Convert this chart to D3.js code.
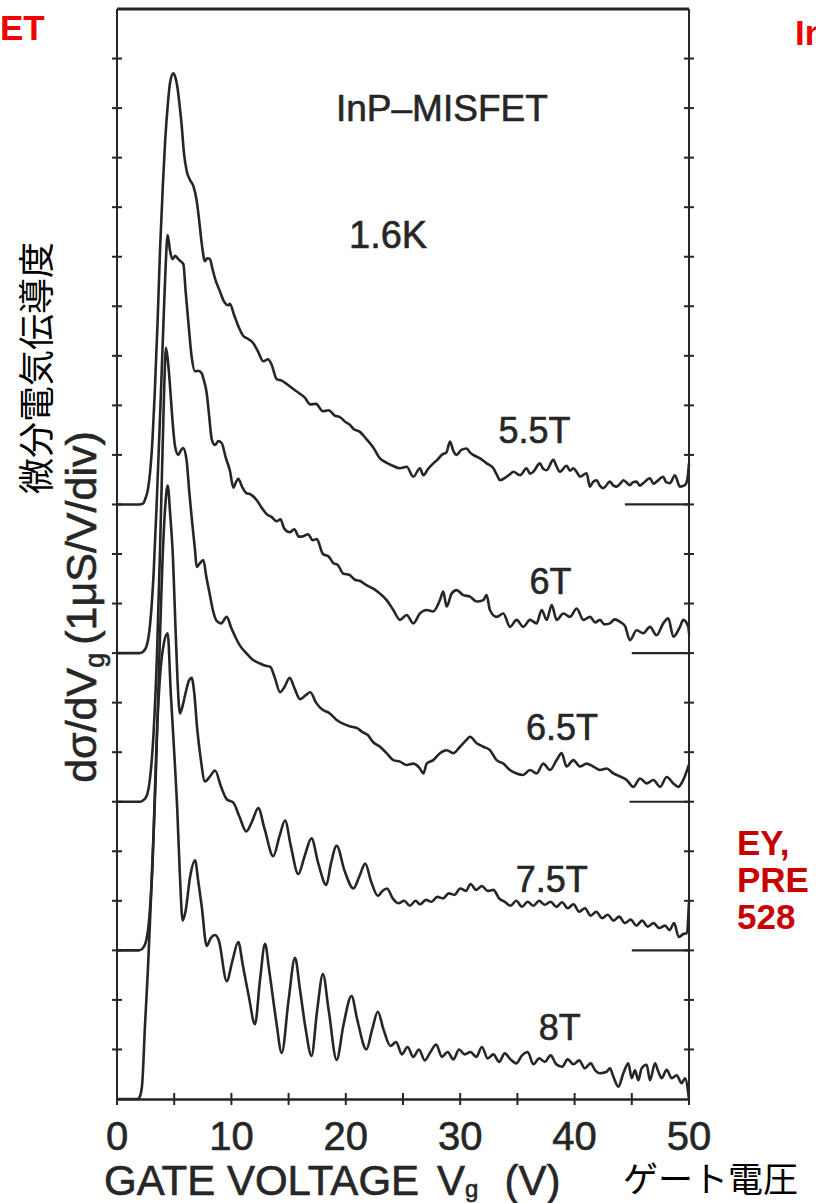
<!DOCTYPE html>
<html><head><meta charset="utf-8">
<script src="https://cdn.jsdelivr.net/npm/d3@7"></script>
<style>body{margin:0;background:#fff}svg{display:block}</style>
</head><body><svg id="c" width="816" height="1203"></svg>
<script>
// ---- data (gate voltage V, dσ/dVg above baseline in divisions) ----
const fields = ["5.5T","6T","6.5T","7.5T","8T"];
const offsets = [12, 9, 6, 3, 0];
const xTicks = [0,10,20,30,40,50];
const xMinor = [5,15,25,35,45];
const markerStart = [44.4, 45.0, 44.8, 45.0];

const curve55 = [[0,0],[2.0,0],[2.3,0.02],[2.45,0.1],[2.7,0.3],[2.9,0.67],[3.1,1.3],[3.3,2.25],[3.55,3.7],[3.76,5.13],[4.0,6.4],[4.2,7.3],[4.45,8.1],[4.63,8.5],[4.92,8.7],[5.1,8.62],[5.27,8.44],[5.45,8.1],[5.65,7.66],[5.85,7.1],[6.09,6.73],[6.38,6.55],[6.67,6.43],[6.96,6.14],[7.2,5.7],[7.4,5.28],[7.69,4.91],[7.9,4.97],[8.13,4.95],[8.35,4.75],[8.57,4.56],[9.0,4.3],[9.3,4.12],[9.73,4.02],[9.87,4.05],[10.2,3.85],[10.6,3.6],[11.04,3.40],[11.4,3.35],[11.9,3.26],[12.3,3.1],[12.8,2.89],[13.2,2.93],[13.5,2.83],[13.96,2.53],[14.4,2.5],[14.9,2.42],[15.4,2.33],[15.9,2.25],[16.4,2.16],[16.9,2.02],[17.4,2.03],[18.0,1.88],[18.5,1.9],[19.0,1.8],[19.5,1.76],[20.0,1.66],[20.3,1.62],[20.7,1.52],[21.2,1.47],[21.8,1.32],[22.4,1.15],[22.99,0.93],[23.5,0.85],[24.1,0.78],[24.73,0.73],[25.32,0.76],[25.9,0.56],[26.48,0.73],[26.78,0.59],[27.2,0.72],[27.65,0.83],[28.0,0.9],[28.38,1.0],[28.8,1.05],[29.11,1.27],[29.4,1.08],[29.69,1.0],[30.1,1.1],[30.56,1.13],[30.85,1.05],[31.14,1.0],[31.73,0.93],[32.31,0.83],[32.9,0.73],[33.2,0.6],[33.48,0.49],[34.06,0.56],[34.4,0.62],[34.64,0.66],[35.23,0.59],[35.81,0.73],[36.1,0.62],[36.39,0.66],[36.97,0.83],[37.25,0.72],[37.55,0.69],[38.14,0.9],[38.4,0.78],[38.72,0.66],[39.3,0.78],[39.6,0.68],[39.88,0.73],[40.2,0.65],[40.47,0.56],[41.05,0.63],[41.34,0.36],[41.6,0.45],[41.92,0.49],[42.2,0.38],[42.51,0.33],[43.09,0.46],[43.4,0.38],[43.67,0.36],[44.0,0.42],[44.26,0.49],[44.84,0.39],[45.1,0.45],[45.42,0.46],[45.7,0.38],[46.0,0.43],[46.58,0.53],[46.9,0.42],[47.17,0.46],[47.75,0.56],[48.0,0.45],[48.33,0.43],[48.77,0.59],[49.2,0.36],[49.64,0.39],[49.85,0.5],[50.0,0.83]];

const curve6 = [[0,0],[2.0,0],[2.3,0.03],[2.6,0.15],[2.9,0.6],[3.2,1.6],[3.5,3.2],[3.8,5.0],[4.05,6.6],[4.25,7.8],[4.43,8.44],[4.63,8.13],[4.85,7.95],[5.1,8.02],[5.36,7.95],[5.6,7.9],[5.8,7.85],[6.0,7.3],[6.23,6.7],[6.53,5.97],[6.82,5.69],[7.1,5.7],[7.4,5.65],[7.6,5.5],[7.84,5.25],[8.05,4.8],[8.28,4.32],[8.57,4.2],[8.85,4.28],[9.15,4.24],[9.5,3.95],[9.88,3.67],[10.17,3.34],[10.4,3.45],[10.6,3.52],[10.95,3.35],[11.3,3.23],[11.7,3.2],[12.2,3.09],[12.6,2.95],[13.1,2.8],[13.5,2.75],[13.96,2.66],[14.3,2.7],[14.6,2.52],[15.1,2.44],[15.5,2.5],[15.9,2.35],[16.3,2.36],[16.7,2.4],[17.1,2.28],[17.46,2.3],[18.0,2.0],[18.5,1.95],[18.9,1.82],[19.3,1.78],[19.8,1.6],[20.3,1.58],[20.8,1.48],[21.3,1.45],[21.8,1.37],[22.4,1.3],[22.99,1.2],[23.57,1.07],[24.15,0.87],[24.74,0.67],[25.32,0.77],[25.9,0.6],[26.48,0.8],[27.07,0.87],[27.65,0.84],[28.23,1.07],[28.52,1.24],[28.81,0.94],[29.25,1.2],[29.69,1.27],[30.27,1.17],[30.86,1.14],[31.44,1.04],[32.02,1.07],[32.31,1.17],[32.6,0.87],[33.18,0.73],[33.77,0.8],[34.35,0.53],[34.93,0.67],[35.51,0.53],[36.1,0.67],[36.68,0.6],[37.12,0.87],[37.56,0.67],[38.0,0.97],[38.43,0.67],[39.02,0.8],[39.6,0.73],[40.18,0.9],[40.77,0.67],[41.35,0.73],[41.8,0.62],[42.22,0.67],[42.6,0.58],[43.09,0.6],[43.5,0.68],[43.97,0.63],[44.4,0.55],[44.84,0.26],[45.42,0.46],[46.0,0.4],[46.59,0.53],[47.17,0.36],[47.75,0.6],[48.19,0.7],[48.63,0.33],[49.21,0.53],[49.5,0.67],[49.94,0.53],[50,0.4]];

const curve65 = [[0,0],[2.0,0],[2.3,0.03],[2.6,0.12],[2.9,0.5],[3.2,1.4],[3.5,3.0],[3.75,5.0],[3.95,6.8],[4.12,8.3],[4.28,9.16],[4.45,8.9],[4.63,8.4],[4.85,7.7],[5.07,7.18],[5.36,7.0],[5.6,7.1],[5.8,7.14],[6.09,6.88],[6.3,6.3],[6.53,5.73],[6.82,5.08],[6.96,4.74],[7.2,4.8],[7.55,4.88],[7.8,4.55],[8.1,4.2],[8.4,3.85],[8.71,3.65],[9.1,3.6],[9.59,3.73],[10.0,3.5],[10.4,3.3],[10.75,3.15],[11.3,3.0],[11.9,2.86],[12.4,2.8],[12.9,2.75],[13.4,2.72],[13.8,2.5],[14.25,2.21],[14.6,2.3],[15.1,2.5],[15.5,2.3],[16.0,2.07],[16.5,2.15],[16.9,2.21],[17.4,2.0],[18.0,1.85],[18.5,1.8],[19.2,1.65],[19.8,1.57],[20.4,1.52],[20.95,1.49],[21.5,1.4],[21.9,1.35],[22.4,1.2],[22.99,1.11],[23.57,0.98],[24.15,0.84],[24.74,0.81],[25.32,0.74],[25.9,0.77],[26.48,0.67],[26.78,0.57],[27.07,0.77],[27.65,0.84],[28.23,0.98],[28.81,1.04],[29.4,0.98],[29.98,1.11],[30.56,1.25],[30.86,1.31],[31.44,1.18],[32.02,1.11],[32.6,1.04],[33.18,0.84],[33.77,0.77],[34.35,0.64],[34.93,0.57],[35.51,0.54],[36.1,0.64],[36.68,0.57],[37.26,0.77],[37.85,0.64],[38.43,0.84],[38.87,0.98],[39.3,0.71],[39.89,0.84],[40.47,0.71],[41.05,0.77],[41.64,0.71],[42.22,0.64],[42.8,0.67],[43.39,0.57],[43.97,0.51],[44.55,0.44],[45.14,0.3],[45.72,0.47],[46.3,0.37],[46.89,0.44],[47.47,0.3],[48.05,0.5],[48.63,0.37],[49.07,0.3],[49.5,0.44],[49.94,0.71],[50,0.75]];

const curve75 = [[0,0],[1.9,0],[2.2,0.03],[2.5,0.15],[2.8,0.6],[3.1,1.7],[3.4,3.6],[3.7,5.9],[3.95,7.7],[4.2,8.9],[4.43,9.38],[4.65,8.8],[4.9,7.88],[5.1,6.6],[5.3,5.4],[5.5,4.78],[5.75,4.95],[6.0,5.2],[6.3,5.45],[6.53,5.5],[6.75,5.2],[7.0,4.5],[7.3,3.9],[7.69,3.41],[8.1,3.5],[8.57,3.63],[9.1,3.3],[9.59,3.05],[10.17,2.98],[10.7,2.7],[11.3,2.4],[11.8,2.6],[12.35,2.87],[12.9,2.45],[13.66,1.9],[14.2,2.3],[14.69,2.62],[15.2,2.1],[15.85,1.54],[16.4,1.9],[17.0,2.26],[17.6,1.75],[18.3,1.32],[18.7,1.75],[19.2,2.11],[19.9,1.6],[20.66,1.25],[21.2,1.5],[21.7,1.75],[22.2,1.4],[22.8,1.1],[23.2,1.2],[23.6,1.25],[24.1,1.05],[24.6,0.95],[25.1,1.0],[25.6,0.9],[26.1,1.0],[26.5,0.93],[27.0,1.02],[27.5,0.98],[28.0,1.08],[28.5,1.05],[29.0,1.15],[29.5,1.12],[30.0,1.25],[30.5,1.2],[30.9,1.34],[31.4,1.22],[31.9,1.3],[32.4,1.2],[32.9,1.22],[33.4,1.05],[33.9,0.98],[34.4,0.9],[34.9,1.0],[35.4,0.88],[35.9,0.98],[36.4,0.9],[36.9,1.0],[37.4,0.92],[37.9,0.98],[38.4,0.88],[38.9,0.97],[39.4,0.85],[39.9,0.93],[40.4,0.78],[40.9,0.85],[41.4,0.7],[41.9,0.78],[42.4,0.65],[42.9,0.72],[43.4,0.6],[43.9,0.68],[44.4,0.55],[44.9,0.62],[45.4,0.5],[45.9,0.6],[46.4,0.48],[46.9,0.55],[47.4,0.45],[47.9,0.5],[48.3,0.41],[48.7,0.55],[49.1,0.27],[49.5,0.33],[49.8,0.35],[50,0.98]];

const curve8 = [[0,0],[1.8,0],[2.0,0.05],[2.2,0.3],[2.45,1.5],[2.7,2.6],[2.9,3.67],[3.2,5.4],[3.47,7.27],[3.75,8.5],[4.1,9.2],[4.43,9.4],[4.7,8.2],[5.0,7.0],[5.27,5.83],[5.5,4.5],[5.74,3.6],[6.0,3.8],[6.4,4.5],[6.82,4.82],[7.1,4.4],[7.4,3.9],[7.84,3.09],[8.2,3.25],[8.57,3.31],[8.9,3.2],[9.59,2.38],[10.1,2.8],[10.6,3.17],[11.0,2.7],[11.5,2.1],[12.06,1.51],[12.5,2.4],[12.94,3.13],[13.3,2.6],[13.9,1.6],[14.4,0.93],[15.0,2.0],[15.56,2.85],[16.0,2.2],[16.5,1.4],[17.0,0.87],[17.5,1.8],[18.0,2.52],[18.5,1.8],[19.2,0.79],[19.8,1.5],[20.5,2.08],[21.0,1.6],[21.8,1.0],[22.3,1.4],[22.8,1.76],[23.3,1.4],[23.9,1.07],[24.4,1.15],[24.9,0.9],[25.4,1.05],[25.9,0.85],[26.4,1.0],[26.9,0.78],[27.4,0.95],[27.9,1.1],[28.4,0.85],[28.9,0.95],[29.4,0.8],[29.9,1.0],[30.4,0.9],[30.9,0.95],[31.4,0.85],[31.9,1.05],[32.4,0.82],[32.9,0.9],[33.4,0.75],[33.9,0.92],[34.4,0.8],[34.9,0.72],[35.4,0.88],[35.9,0.95],[36.4,0.7],[36.9,0.82],[37.4,0.75],[37.9,0.88],[38.4,0.7],[38.9,0.65],[39.4,0.8],[39.9,0.7],[40.4,0.78],[40.9,0.62],[41.4,0.72],[41.8,0.58],[42.22,0.52],[42.8,0.55],[43.09,0.62],[43.39,0.45],[43.83,0.25],[44.26,0.52],[44.7,0.72],[44.99,0.42],[45.28,0.58],[45.57,0.38],[45.86,0.62],[46.3,0.69],[46.59,0.38],[47.03,0.72],[47.32,0.55],[47.61,0.42],[48.05,0.59],[48.49,0.42],[48.92,0.48],[49.36,0.32],[49.65,0.42],[50,0]];

const curves = [curve55, curve6, curve65, curve75, curve8];

// ---- layout ----
const svg = d3.select("#c");
const x = d3.scaleLinear().domain([0,50]).range([117,689]);
const y = d3.scaleLinear().domain([0,22]).range([1099,9]);
const ink = "#262626";
const sans = "'Liberation Sans', Arial, Helvetica, sans-serif";
function heavy(sel){ return sel.attr("stroke",ink).attr("stroke-width",0.6).attr("paint-order","stroke"); }

// frame
svg.append("line").attr("x1",x(0)).attr("x2",x(50)).attr("y1",y(22)).attr("y2",y(22)).attr("stroke",ink).attr("stroke-width",3);
svg.append("line").attr("x1",x(0)).attr("x2",x(0)).attr("y1",y(22)).attr("y2",y(0)).attr("stroke",ink).attr("stroke-width",2);
svg.append("line").attr("x1",x(50)).attr("x2",x(50)).attr("y1",y(22)).attr("y2",y(0)).attr("stroke",ink).attr("stroke-width",2);

// bottom axis
const bottom = svg.append("g").attr("transform",`translate(0,${y(0)})`)
  .call(d3.axisBottom(x).tickValues(xTicks.concat(xMinor)).tickSize(0).tickFormat(""));
bottom.select(".domain").attr("stroke",ink).attr("stroke-width",2.5);
svg.selectAll(".xt").data(xTicks.concat(xMinor)).join("line").attr("class","xt")
  .attr("x1",d=>x(d)).attr("x2",d=>x(d)).attr("y1",y(0)-6).attr("y2",y(0)+6)
  .attr("stroke",ink).attr("stroke-width",2);
heavy(svg.selectAll(".xl").data(xTicks).join("text").attr("class","xl")
  .attr("x",d=>x(d)).attr("y",1150).attr("text-anchor","middle")
  .attr("font-family",sans).attr("font-size",40).attr("fill",ink).text(d=>d));

// left & right ticks
const yt = d3.range(1,22);
["l","r"].forEach((s,i)=>{
  svg.selectAll(".yt"+s).data(yt).join("line").attr("class","yt"+s)
    .attr("x1",(i?x(50):x(0))-5).attr("x2",(i?x(50):x(0))+5)
    .attr("y1",d=>y(d)).attr("y2",d=>y(d)).attr("stroke",ink).attr("stroke-width",2);
});

// baseline markers at right
svg.selectAll(".mk").data(markerStart).join("line").attr("class","mk")
  .attr("x1",d=>x(d)).attr("x2",x(50)).attr("y1",(d,i)=>y(offsets[i])).attr("y2",(d,i)=>y(offsets[i]))
  .attr("stroke",ink).attr("stroke-width",2.2);

// curves
const line = d3.line().x(d=>x(d[0])).y(d=>d[1]).curve(d3.curveMonotoneX);
curves.forEach((c,i)=>{
  svg.append("path").datum(c.map(p=>[p[0], y(p[1]+offsets[i])]))
    .attr("d",line).attr("fill","none").attr("stroke",ink).attr("stroke-width",2.6)
    .attr("stroke-linejoin","round");
});

// curve labels
const labelPos = [[36.5,13.5],[37.9,10.45],[38.9,7.5],[38.0,4.45],[38.7,1.45]];
heavy(svg.selectAll(".cl").data(fields).join("text").attr("class","cl")
  .attr("x",(d,i)=>x(labelPos[i][0])).attr("y",(d,i)=>y(labelPos[i][1])+13)
  .attr("text-anchor","middle").attr("font-family",sans).attr("font-size",36).attr("fill",ink).text(d=>d));

heavy(svg.append("text").attr("x",x(28.4)).attr("y",y(20.0)+13).attr("text-anchor","middle")
  .attr("font-family",sans).attr("font-size",37).attr("fill",ink).text("InP–MISFET"));
heavy(svg.append("text").attr("x",x(23.7)).attr("y",y(17.44)+13).attr("text-anchor","middle")
  .attr("font-family",sans).attr("font-size",38).attr("fill",ink).text("1.6K"));

// x title
const xt = heavy(svg.append("text").attr("x",104).attr("y",1195).attr("font-family",sans).attr("font-size",42).attr("fill",ink));
xt.append("tspan").text("GATE VOLTAGE");
xt.append("tspan").attr("dx",18).text("V");
xt.append("tspan").attr("font-size",24).attr("dy",2).text("g");
xt.append("tspan").attr("dy",-2).attr("dx",26).text("(V)");
svg.append("text").attr("x",623).attr("y",1192).attr("font-family","'Noto Sans CJK JP', sans-serif")
  .attr("font-size",35).attr("fill","#000").text("ゲート電圧");

// y title
const yl = heavy(svg.append("text").attr("transform","translate(96,607) rotate(-90)").attr("text-anchor","middle")
  .attr("font-family",sans).attr("font-size",43).attr("fill",ink));
yl.append("tspan").text("dσ/dV");
yl.append("tspan").attr("font-size",27).attr("dy",8).text("g");
yl.append("tspan").attr("dy",-8).attr("dx",8).text("(1μS/V/div)");
svg.append("text").attr("transform","translate(50,368) rotate(-90)").attr("text-anchor","middle")
  .attr("font-family","'Noto Sans CJK JP', sans-serif").attr("font-size",36).attr("fill","#000").text("微分電気伝導度");

// red overlay text fragments
svg.append("text").attr("x",0).attr("y",40).attr("font-family",sans).attr("font-weight","bold")
  .attr("font-size",35).attr("fill","#f00000").text("ET");
svg.append("text").attr("x",795).attr("y",45).attr("font-family",sans).attr("font-weight","bold")
  .attr("font-size",35).attr("fill","#f00000").text("In");
const red = ["EY,","PRE","528"];
svg.selectAll(".rd").data(red).join("text").attr("class","rd")
  .attr("x",737).attr("y",(d,i)=>855+i*37).attr("font-family",sans).attr("font-weight","bold")
  .attr("font-size",35).attr("fill","#c80000").text(d=>d);
</script></body></html>
